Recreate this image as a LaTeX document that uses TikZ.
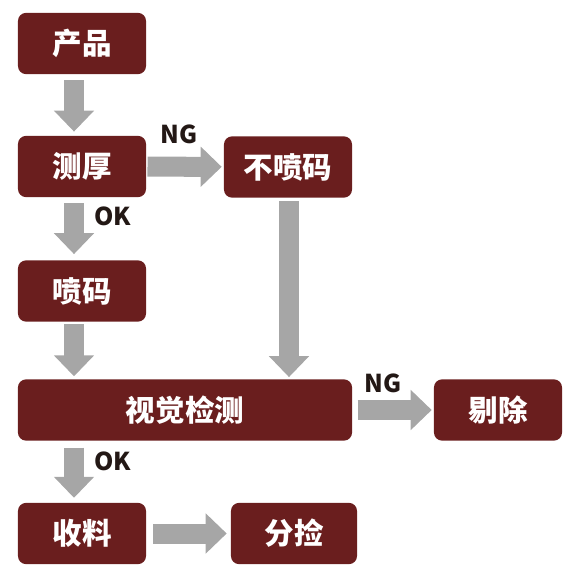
\documentclass[tikz,border=0pt]{standalone}
\usepackage{fontspec}
\newfontfamily\cjk{Noto Sans CJK SC}
\usetikzlibrary{arrows.meta, calc}
\definecolor{boxred}{RGB}{106,30,30}
\definecolor{flowgray}{RGB}{166,166,166}
\definecolor{labelblack}{RGB}{35,24,21}

\begin{document}
\begin{tikzpicture}[
    x=0.025cm, y=-0.025cm,
    stage/.style={rectangle, rounded corners=0.2cm, fill=boxred, text=white,
        minimum width=3.2cm, minimum height=1.53cm, inner sep=0pt,
        font=\cjk\bfseries\fontsize{21pt}{21pt}\selectfont},
    flow/.style={draw=flowgray, line width=0.5cm,
        -{Triangle[width=0.975cm, length=0.525cm]}},
    verdict/.style={text=labelblack, inner sep=0pt,
        font=\cjk\bfseries\fontsize{17.5pt}{17.5pt}\selectfont}
]
\useasboundingbox (0,0) rectangle (579,583);
\node[stage] (prod) at (82, 43.5) {产品};
\node[stage] (thick) at (82, 166.5) {测厚};
\node[stage] (nocode) at (288, 167) {不喷码};
\node[stage] (code) at (82, 291) {喷码};
\node[stage, minimum width=8.35cm] (vision) at (185, 410) {视觉检测};
\node[stage] (reject) at (498, 410) {剔除};
\node[stage] (collect) at (82, 533.5) {收料};
\node[stage, minimum width=3.15cm] (sort) at (294, 533.5) {分捡};
\node[verdict] (ng1) at (179, 134) {NG};
\node[verdict] (ok1) at (113, 216) {OK};
\node[verdict] (ng2) at (383, 383) {NG};
\node[verdict] (ok2) at (113, 461) {OK};
\draw[flow, shorten <=0.15cm, shorten >=0.1cm] ($(prod.south)+(-8,0)$) -- ($(thick.north)+(-8,0)$);
\draw[flow, shorten <=0.03cm, shorten >=0.05cm] (thick) -- (nocode);
\draw[flow, shorten <=0.15cm, shorten >=0.15cm] ($(thick.south)+(-8,0)$) -- ($(code.north)+(-8,0)$);
\draw[flow, shorten <=0.05cm, shorten >=0.07cm] ($(code.south)+(-8,0)$) -- ($(code.south |- vision.north)+(-8,0)$);
\draw[flow, shorten <=0.08cm, shorten >=0.05cm] ($(nocode.south)+(1,0)$) -- ($(nocode.south |- vision.north)+(1,0)$);
\draw[flow, shorten <=0.13cm, shorten >=0.05cm] (vision) -- (reject);
\draw[flow, shorten <=0.17cm, shorten >=0.12cm] ($(vision.south -| collect.north)+(-8,0)$) -- ($(collect.north)+(-8,0)$);
\draw[flow, shorten <=0.17cm, shorten >=0.1cm] (collect) -- (sort);
\end{tikzpicture}
\end{document}
